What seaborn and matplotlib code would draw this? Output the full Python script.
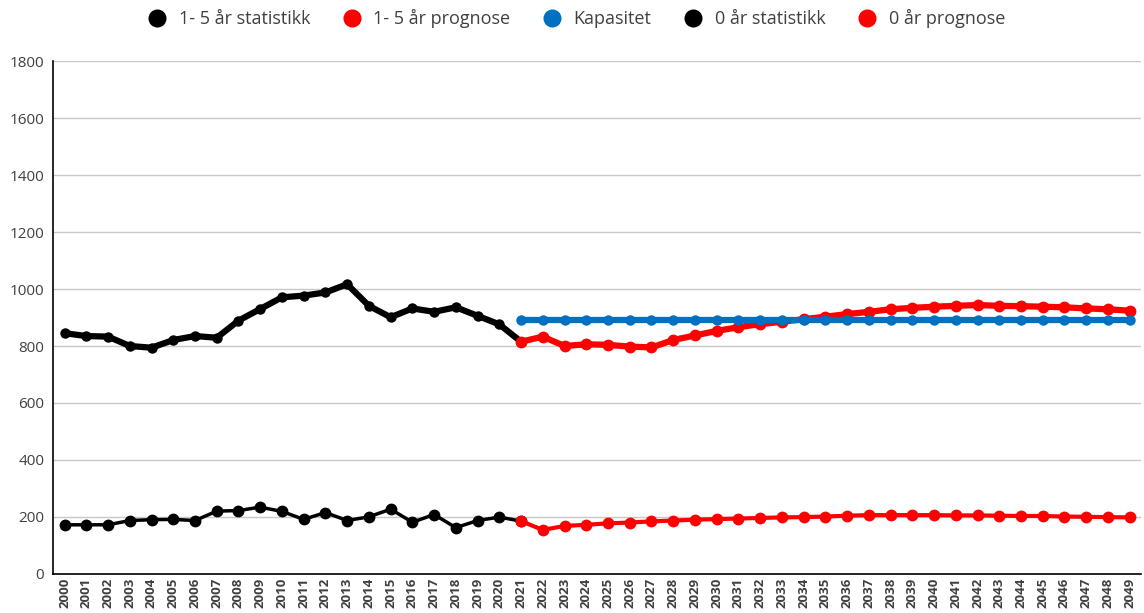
import numpy as np
import pandas as pd
import seaborn as sns
import matplotlib.pyplot as plt
from matplotlib.lines import Line2D

# --- data ---
years_stat = list(range(2000, 2022))
years_prog = list(range(2021, 2050))

stat_1_5 = [845, 835, 833, 800, 794, 821, 835, 829, 889, 930, 971,
            977, 988, 1017, 941, 901, 932, 920, 936, 906, 876, 815]
prog_1_5 = [815, 833, 800, 806, 804, 798, 795, 821, 837, 853, 866,
            877, 885, 894, 903, 912, 920, 929, 934, 938, 941, 944,
            941, 940, 938, 936, 932, 929, 924]
kapasitet = [890] * len(years_prog)
stat_0 = [172, 172, 172, 187, 190, 191, 187, 220, 222, 234, 219,
          191, 215, 187, 200, 227, 181, 208, 162, 187, 199, 185]
prog_0 = [185, 154, 168, 172, 177, 180, 184, 187, 190, 192, 194,
          196, 198, 199, 201, 204, 206, 206, 206, 206, 205, 205,
          204, 203, 203, 201, 200, 199, 198]

labels = ["1- 5 år statistikk", "1- 5 år prognose", "Kapasitet",
          "0 år statistikk", "0 år prognose"]
colors = ["#000000", "#ff0000", "#0070c0", "#000000", "#ff0000"]

sns.set_style("white")
plt.rcParams['font.family'] = ['Open Sans', 'DejaVu Sans']

fig, ax = plt.subplots(figsize=(11.44, 6.13), dpi=100)
fig.subplots_adjust(left=0.046, right=0.997, top=0.9, bottom=0.064)

ax.set_axisbelow(True)
ax.yaxis.grid(True, color="#c8c8c8", linewidth=1)

# (x, y, line width, marker size) per series
series = [
    (years_stat, stat_1_5, 4.5, 7.5),
    (years_prog, prog_1_5, 4.5, 8.5),
    (years_prog, kapasitet, 4.5, 7.5),
    (years_stat, stat_0, 2.5, 8.5),
    (years_prog, prog_0, 3, 8.5),
]
for (x, y, lw, ms), lab, c in zip(series, labels, colors):
    sns.lineplot(x=x, y=y, ax=ax, color=c, linewidth=lw, marker="o",
                 markersize=ms, markeredgewidth=0, label=lab, legend=False)

ax.set_xlim(1999.45, 2049.5)
ax.set_ylim(0, 1800)
ax.set_yticks(np.arange(0, 1801, 200))
ax.set_xticks(list(range(2000, 2050)))
ax.set_xticklabels([str(y) for y in range(2000, 2050)], rotation=90,
                   fontsize=9.5, fontweight="bold", color="#404040")
ax.tick_params(axis="y", labelsize=11, labelcolor="#404040", length=0, pad=6)
ax.tick_params(axis="x", length=0, pad=3)

for s in ["top", "right"]:
    ax.spines[s].set_visible(False)
for s in ["left", "bottom"]:
    ax.spines[s].set_color("#000000")
    ax.spines[s].set_linewidth(1.2)

handles = [Line2D([], [], linestyle="none", marker="o", markersize=13,
                  color=c, markeredgewidth=0) for c in colors]
fig.legend(handles, labels, loc="upper center", ncol=5, frameon=False,
           bbox_to_anchor=(0.5, 1.012), fontsize=13, handletextpad=0.2,
           columnspacing=1.3, labelcolor="#404040")

fig.savefig("out.png", dpi=100)
